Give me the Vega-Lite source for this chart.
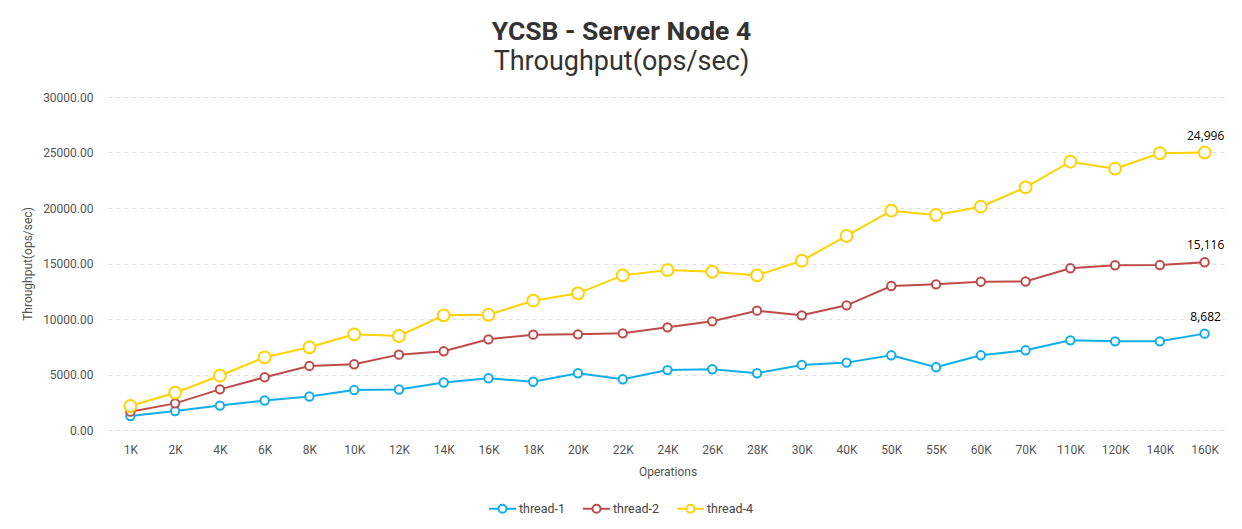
{
  "$schema": "https://vega.github.io/schema/vega-lite/v6.json",
  "autosize": "none",
  "width": 1119,
  "height": 333,
  "padding": {"left": 108, "top": 97, "right": 15, "bottom": 99},
  "background": "white",
  "config": {
    "font": "Roboto",
    "view": {"stroke": null},
    "axis": {"labelFont": "Roboto", "titleFont": "Roboto", "labelColor": "#555555", "titleColor": "#555555", "labelFontSize": 12, "titleFontSize": 12, "titleFontWeight": "normal"}
  },
  "title": {
    "text": "YCSB - Server Node 4",
    "subtitle": "Throughput(ops/sec)",
    "font": "Roboto",
    "fontSize": 26.5,
    "fontWeight": "bold",
    "color": "#333333",
    "subtitleFont": "Roboto",
    "subtitleFontSize": 27,
    "subtitleColor": "#333333",
    "subtitlePadding": 4,
    "anchor": "middle",
    "dx": -46,
    "offset": 16
  },
  "data": {
    "values": [
      {"op": "1K", "series": "thread-1", "value": 1260}, {"op": "2K", "series": "thread-1", "value": 1710}, {"op": "4K", "series": "thread-1", "value": 2200}, {"op": "6K", "series": "thread-1", "value": 2660}, {"op": "8K", "series": "thread-1", "value": 3020}, {"op": "10K", "series": "thread-1", "value": 3600}, {"op": "12K", "series": "thread-1", "value": 3650}, {"op": "14K", "series": "thread-1", "value": 4280}, {"op": "16K", "series": "thread-1", "value": 4660}, {"op": "18K", "series": "thread-1", "value": 4350}, {"op": "20K", "series": "thread-1", "value": 5110}, {"op": "22K", "series": "thread-1", "value": 4570}, {"op": "24K", "series": "thread-1", "value": 5400}, {"op": "26K", "series": "thread-1", "value": 5470}, {"op": "28K", "series": "thread-1", "value": 5110}, {"op": "30K", "series": "thread-1", "value": 5860}, {"op": "40K", "series": "thread-1", "value": 6070}, {"op": "50K", "series": "thread-1", "value": 6730}, {"op": "55K", "series": "thread-1", "value": 5650}, {"op": "60K", "series": "thread-1", "value": 6730}, {"op": "70K", "series": "thread-1", "value": 7180}, {"op": "110K", "series": "thread-1", "value": 8080}, {"op": "120K", "series": "thread-1", "value": 7990}, {"op": "140K", "series": "thread-1", "value": 7990}, {"op": "160K", "series": "thread-1", "value": 8682},
      {"op": "1K", "series": "thread-2", "value": 1650}, {"op": "2K", "series": "thread-2", "value": 2400}, {"op": "4K", "series": "thread-2", "value": 3660}, {"op": "6K", "series": "thread-2", "value": 4750}, {"op": "8K", "series": "thread-2", "value": 5770}, {"op": "10K", "series": "thread-2", "value": 5920}, {"op": "12K", "series": "thread-2", "value": 6790}, {"op": "14K", "series": "thread-2", "value": 7090}, {"op": "16K", "series": "thread-2", "value": 8170}, {"op": "18K", "series": "thread-2", "value": 8590}, {"op": "20K", "series": "thread-2", "value": 8620}, {"op": "22K", "series": "thread-2", "value": 8710}, {"op": "24K", "series": "thread-2", "value": 9250}, {"op": "26K", "series": "thread-2", "value": 9790}, {"op": "28K", "series": "thread-2", "value": 10750}, {"op": "30K", "series": "thread-2", "value": 10330}, {"op": "40K", "series": "thread-2", "value": 11230}, {"op": "50K", "series": "thread-2", "value": 12970}, {"op": "55K", "series": "thread-2", "value": 13120}, {"op": "60K", "series": "thread-2", "value": 13360}, {"op": "70K", "series": "thread-2", "value": 13380}, {"op": "110K", "series": "thread-2", "value": 14570}, {"op": "120K", "series": "thread-2", "value": 14840}, {"op": "140K", "series": "thread-2", "value": 14860}, {"op": "160K", "series": "thread-2", "value": 15116},
      {"op": "1K", "series": "thread-4", "value": 2160}, {"op": "2K", "series": "thread-4", "value": 3360}, {"op": "4K", "series": "thread-4", "value": 4890}, {"op": "6K", "series": "thread-4", "value": 6550}, {"op": "8K", "series": "thread-4", "value": 7450}, {"op": "10K", "series": "thread-4", "value": 8620}, {"op": "12K", "series": "thread-4", "value": 8470}, {"op": "14K", "series": "thread-4", "value": 10330}, {"op": "16K", "series": "thread-4", "value": 10380}, {"op": "18K", "series": "thread-4", "value": 11650}, {"op": "20K", "series": "thread-4", "value": 12310}, {"op": "22K", "series": "thread-4", "value": 13930}, {"op": "24K", "series": "thread-4", "value": 14410}, {"op": "26K", "series": "thread-4", "value": 14260}, {"op": "28K", "series": "thread-4", "value": 13930}, {"op": "30K", "series": "thread-4", "value": 15250}, {"op": "40K", "series": "thread-4", "value": 17480}, {"op": "50K", "series": "thread-4", "value": 19760}, {"op": "55K", "series": "thread-4", "value": 19370}, {"op": "60K", "series": "thread-4", "value": 20120}, {"op": "70K", "series": "thread-4", "value": 21860}, {"op": "110K", "series": "thread-4", "value": 24170}, {"op": "120K", "series": "thread-4", "value": 23540}, {"op": "140K", "series": "thread-4", "value": 24930}, {"op": "160K", "series": "thread-4", "value": 24996}
    ]
  },
  "encoding": {
    "x": {
      "field": "op", "type": "ordinal",
      "sort": ["1K","2K","4K","6K","8K","10K","12K","14K","16K","18K","20K","22K","24K","26K","28K","30K","40K","50K","55K","60K","70K","110K","120K","140K","160K"],
      "scale": {"type": "point", "padding": 0.5},
      "axis": {"title": "Operations", "labelAngle": 0, "domain": false, "ticks": false, "grid": false, "labelPadding": 14, "titlePadding": 11}
    },
    "y": {
      "field": "value", "type": "quantitative",
      "scale": {"domain": [0, 30000], "nice": false},
      "axis": {"title": "Throughput(ops/sec)", "values": [0, 5000, 10000, 15000, 20000, 25000, 30000], "format": ".2f", "domain": false, "ticks": false, "labelPadding": 15, "titlePadding": 8, "gridColor": "#dddddd", "gridDash": [4, 4], "gridWidth": 1}
    },
    "color": {
      "field": "series", "type": "nominal",
      "scale": {"domain": ["thread-1", "thread-2", "thread-4"], "range": ["#0eaeea", "#be4b48", "#ffd200"]},
      "legend": {
        "title": null, "orient": "none", "legendX": 380, "legendY": 397, "direction": "horizontal",
        "symbolType": "M-1,0L-0.3,0M0.3,0L1,0M0.3,0A0.3,0.3,0,1,1,-0.3,0A0.3,0.3,0,1,1,0.3,0",
        "symbolSize": 729, "symbolStrokeWidth": 2, "symbolFillColor": "white",
        "labelFont": "Roboto", "labelFontSize": 12.5, "labelColor": "#444444", "columnPadding": 13, "labelOffset": 2
      }
    }
  },
  "layer": [
    {
      "mark": {"type": "line", "strokeWidth": 2}
    },
    {
      "mark": {"type": "point", "filled": false, "fill": "white", "strokeWidth": 2, "opacity": 1},
      "encoding": {
        "size": {"condition": {"test": "datum.series === 'thread-4'", "value": 140}, "value": 70}
      }
    },
    {
      "transform": [{"filter": "datum.op === '160K'"}],
      "mark": {"type": "text", "dy": -17, "font": "Open Sans", "fontSize": 12, "dx": 1},
      "encoding": {
        "text": {"field": "value", "type": "quantitative", "format": ",.0f"},
        "color": {"value": "black"}
      }
    }
  ]
}
